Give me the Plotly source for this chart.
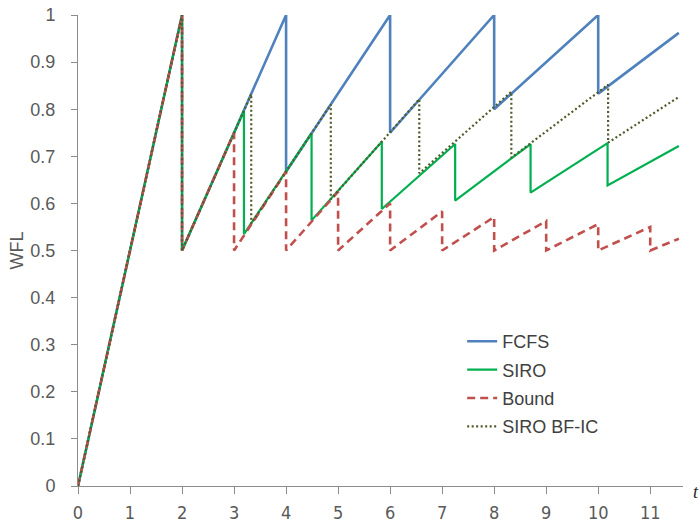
import plotly.graph_objects as go

# Waiting-for-lock (WFL) over time for four policies
fcfs_t = [0, 2, 2, 4, 4, 6, 6, 8, 8, 10, 10, 11.55]
fcfs_wfl = [0, 1, 0.5, 1, 0.667, 1, 0.75, 1, 0.8, 1, 0.833, 0.962]

siro_t = [0, 2, 2, 3.19, 3.19, 4.49, 4.49, 5.84, 5.84, 7.25, 7.25, 8.70, 8.70, 10.18, 10.18, 11.55]
siro_wfl = [0, 1, 0.5, 0.797, 0.535, 0.749, 0.564, 0.731, 0.588, 0.726, 0.606, 0.726, 0.623, 0.728, 0.638, 0.722]

bound_t = [0, 2, 2, 3, 3, 4, 4, 5, 5, 6, 6, 7, 7, 8, 8, 9, 9, 10, 10, 11, 11, 11.55]
bound_wfl = [0, 1, 0.5, 0.75, 0.5, 0.667, 0.5, 0.625, 0.5, 0.6, 0.5, 0.583, 0.5, 0.571,
             0.5, 0.5625, 0.5, 0.556, 0.5, 0.55, 0.5, 0.525]

bfic_t = [0, 2, 2, 3.33, 3.33, 4.86, 4.86, 6.56, 6.56, 8.33, 8.33, 10.19, 10.19, 11.55]
bfic_wfl = [0, 1, 0.5, 0.832, 0.557, 0.81, 0.609, 0.821, 0.664, 0.837, 0.697, 0.852, 0.729, 0.826]

x_ticks = list(range(12))
x_tick_text = [str(v) for v in x_ticks]
y_ticks = [0, 0.1, 0.2, 0.3, 0.4, 0.5, 0.6, 0.7, 0.8, 0.9, 1]
y_tick_text = ["0", "0.1", "0.2", "0.3", "0.4", "0.5", "0.6", "0.7", "0.8", "0.9", "1"]

series = [
    ("FCFS", fcfs_t, fcfs_wfl, dict(color="#4F81BD", width=2.6)),
    ("SIRO", siro_t, siro_wfl, dict(color="#00B050", width=2.2)),
    ("Bound", bound_t, bound_wfl, dict(color="#C0504D", width=2.6, dash="8px,5px")),
    ("SIRO BF-IC", bfic_t, bfic_wfl, dict(color="#4F5B2A", width=2.2, dash="2px,2.5px")),
]

fig = go.Figure()
for name, t, w, line in series:
    fig.add_trace(go.Scatter(x=t, y=w, mode="lines", name=name, line=line,
                             legendgroup=name))

axis_grey = "#8C8C8C"
label_font = dict(family="Liberation Sans, Arial, sans-serif", size=18, color="#595959")
narrow_font = dict(family="Liberation Sans Narrow, DejaVu Sans Condensed, sans-serif",
                   size=18, color="#595959")

fig.update_layout(
    width=699, height=525,
    margin=dict(l=78, r=16, t=15, b=39, autoexpand=False),
    plot_bgcolor="white", paper_bgcolor="white",
    showlegend=True,
    legend=dict(
        x=0.635, y=0.346, xanchor="left", yanchor="top",
        font=dict(family="Liberation Sans, Arial, sans-serif", size=18, color="#404040"),
        itemwidth=30, tracegroupgap=2, bgcolor="rgba(0,0,0,0)",
    ),
    xaxis=dict(
        range=[0, 11.63], tickvals=x_ticks, ticktext=x_tick_text,
        showgrid=False, zeroline=False, showline=True, linecolor=axis_grey, linewidth=1,
        ticks="outside", ticklen=7, tickcolor=axis_grey, tickwidth=1,
        tickfont=narrow_font, ticklabelstandoff=3,
    ),
    yaxis=dict(
        range=[0, 1], tickvals=y_ticks, ticktext=y_tick_text,
        showgrid=False, zeroline=False, showline=True, linecolor=axis_grey, linewidth=1,
        ticks="outside", ticklen=6, tickcolor=axis_grey, tickwidth=1,
        tickfont=label_font, ticklabelstandoff=12,
        title=dict(text="WFL", font=label_font, standoff=2),
    ),
)

fig.add_annotation(
    text="<i>t</i>", xref="paper", yref="paper", x=1.0, y=0.0,
    xshift=8, yshift=-6, xanchor="left", yanchor="middle", showarrow=False,
    font=dict(family="Liberation Serif, serif", size=18, color="#262626"),
)

fig.write_html("out.html")
